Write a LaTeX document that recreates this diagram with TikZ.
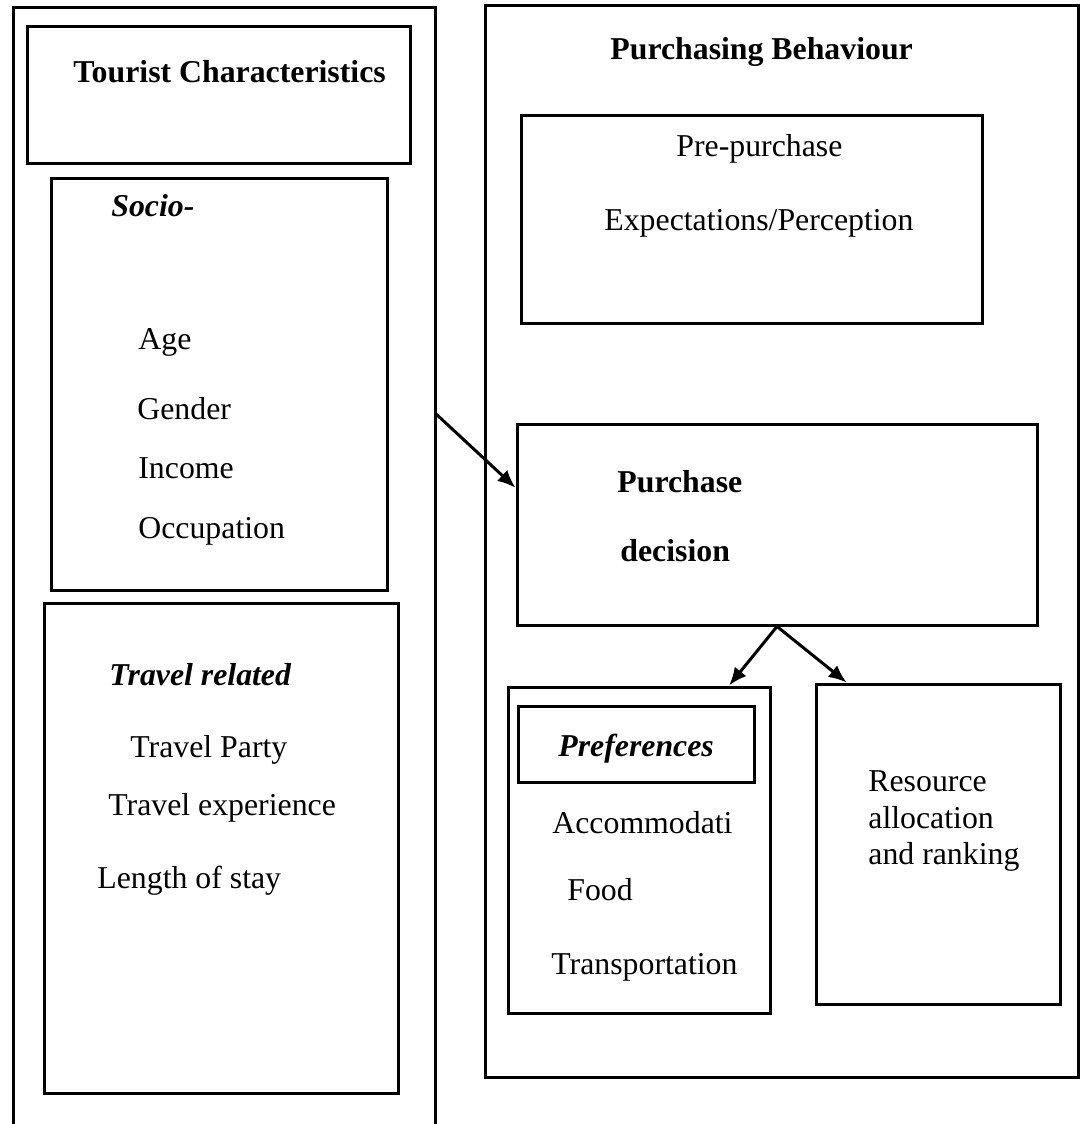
\documentclass[tikz,border=0pt]{standalone}
\usepackage{fontspec}
\setmainfont{Liberation Serif}
\usepackage{tikz}
\usetikzlibrary{arrows.meta, fit, calc}
\tikzset{
    >={Latex[length=9pt, width=7.5pt]},
    box/.style={draw, line width=1.5pt, inner sep=0pt},
    link/.style={->, line width=1.5pt},
    label/.style={anchor=base west, inner sep=0pt, font=\fontsize{15.9}{19}\selectfont},
    heading/.style={label, font=\fontsize{15.9}{19}\selectfont\bfseries},
    subheading/.style={label, font=\fontsize{15.9}{19}\selectfont\bfseries\itshape},
}
\begin{document}
\begin{tikzpicture}[x=0.5pt, y=-0.5pt]
        \useasboundingbox (0,0) rectangle (1080,1124);
        \draw[line width=1.5pt] (13,1130) -- (13,7) -- (435,7) -- (435,1130);
        \coordinate (tc_edge) at (435,413);
        \node[box, fit={(27,26) (410,163)}] (tourist) {};
        \node[box, fit={(51,178) (387,590)}] (socio) {};
        \node[box, fit={(44,603) (398,1093)}] (travel) {};
        \node[box, fit={(485,5) (1078,1077)}] (behaviour) {};
        \node[box, fit={(521,115) (982,323)}] (prepurchase) {};
        \node[box, fit={(517,424) (1037,625)}] (decision) {};
        \node[box, fit={(508,687) (770,1013)}] (prefs) {};
        \node[box, fit={(518,706) (754,782)}] (prefhead) {};
        \node[box, fit={(816,684) (1060,1004)}] (resource) {};
        \node[heading] (tourist_t) at (73,82) {Tourist Characteristics};
        \node[heading] (behaviour_t) at (610,59) {Purchasing Behaviour};
        \node[label] (pre_t) at (676,156) {Pre-purchase};
        \node[label] (expect_t) at (604,230) {Expectations/Perception};
        \node[subheading] (socio_t) at (111,216) {Socio-};
        \foreach \name/\txt/\x/\y in {age/Age/138/349, gender/Gender/137/419,
            income/Income/138/478, occup/Occupation/138/538}
            \node[label] (\name_t) at (\x,\y) {\txt};
        \node[heading] (purchase_t) at (617,492) {Purchase};
        \node[heading] (decision_t) at (620,561) {decision};
        \node[subheading] (travel_t) at (109,685) {Travel related};
        \foreach \name/\txt/\x/\y in {party/Travel Party/130/757,
            exper/Travel experience/108/815, stay/Length of stay/97/888}
            \node[label] (\name_t) at (\x,\y) {\txt};
        \node[subheading] (prefs_t) at (558,756) {Preferences};
        \foreach \name/\txt/\x/\y in {accom/Accommodati/552/833, food/Food/567/900,
            trans/Transportation/551/974}
            \node[label] (\name_t) at (\x,\y) {\txt};
        \foreach \name/\txt/\y in {res/Resource/791, alloc/allocation/828, rank/and ranking/864}
            \node[label] (\name_t) at (868,\y) {\txt};
        \draw[link] (tc_edge) -- ($(decision.north west)!0.32!(decision.south west)$);
        \draw[link] (decision.south) -- ($(prefs.north west)!0.84!(prefs.north east)$);
        \draw[link] (decision.south) -- ($(resource.north west)!0.13!(resource.north east)$);
    \end{tikzpicture}
\end{document}
